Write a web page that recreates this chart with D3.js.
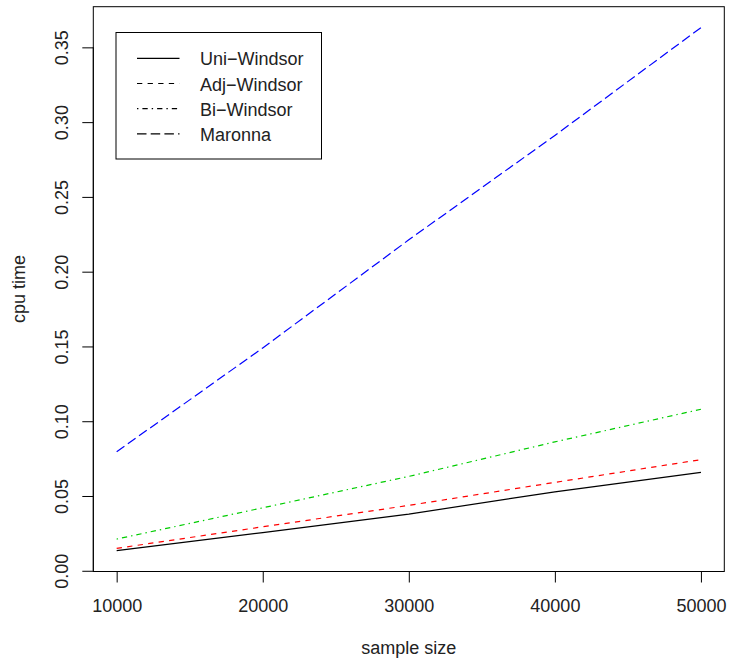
<!DOCTYPE html>
<html>
<head>
<meta charset="utf-8">
<script src="https://cdn.jsdelivr.net/npm/d3@7"></script>
<style>
    html, body { margin: 0; padding: 0; background: #fff; }
    svg { display: block; font-family: "Liberation Sans", Arial, Helvetica, sans-serif; }
</style>
</head>
<body>
<div id="chart"></div>
<script>
// values
var sampleSizes = [10000, 20000, 30000, 40000, 50000];
var uniWindsor = [0.0135, 0.0255, 0.0379, 0.0528, 0.0658];
var adjWindsor = [0.0150, 0.0294, 0.0437, 0.0591, 0.0743];
var biWindsor = [0.0212, 0.0421, 0.0631, 0.0862, 0.1080];
var maronna = [0.0796, 0.1490, 0.2213, 0.2911, 0.3632];
var seriesNames = ["Uni\u2212Windsor", "Adj\u2212Windsor", "Bi\u2212Windsor", "Maronna"];
var xTicks = [10000, 20000, 30000, 40000, 50000];
var yTicks = [0, 0.05, 0.10, 0.15, 0.20, 0.25, 0.30, 0.35];

(function(d3) {

    "use strict";

    var width = 729,
        height = 659;

    var box = { left: 93.3, right: 724.3, top: 6.7, bottom: 571.5 };

    // R-like line styles: solid, dashed, dotdash, longdash (scaled up a bit)
    var colors = ["#000000", "#FF0000", "#00CD00", "#0000FF"];
    var dashes = [null, "5.3,5.3", "1.4,4,5.3,4", "9.5,4.2"];

    var series = [uniWindsor, adjWindsor, biWindsor, maronna];

    /**
     * Extend a range by 4% on each side, like R does
     * @param  {Array} ext [min, max]
     * @return {Array}     extended domain
     */
    function rRange(ext) {
        var r = ext[1] - ext[0];
        return [ext[0] - 0.04 * r, ext[1] + 0.04 * r];
    }

    var allY = d3.merge(series);

    var x = d3.scaleLinear()
        .domain(rRange(d3.extent(sampleSizes)))
        .range([box.left, box.right]);

    var y = d3.scaleLinear()
        .domain(rRange(d3.extent(allY)))
        .range([box.bottom, box.top]);

    var svg = d3.select("#chart")
        .append("svg")
        .attr("width", width)
        .attr("height", height);

    // lines
    var line = d3.line()
        .x(function(d, i) { return x(sampleSizes[i]); })
        .y(function(d) { return y(d); });

    svg.selectAll(".series")
        .data(series)
        .enter()
        .append("path")
        .attr("class", "series")
        .attr("d", line)
        .attr("fill", "none")
        .attr("stroke", function(d, i) { return colors[i]; })
        .attr("stroke-width", 1.2)
        .attr("stroke-dasharray", function(d, i) { return dashes[i]; });

    // x axis
    var xAxis = svg.append("g")
        .attr("transform", "translate(0," + box.bottom + ")")
        .call(d3.axisBottom(x).tickValues(xTicks).tickSize(11).tickFormat(d3.format("d")));

    xAxis.select(".domain").remove();
    xAxis.append("line")
        .attr("x1", x(xTicks[0]))
        .attr("x2", x(xTicks[xTicks.length - 1]))
        .attr("stroke", "#000");
    xAxis.selectAll("text")
        .attr("dy", null)
        .attr("y", 40.5)
        .attr("font-size", 18)
        .attr("fill", "#222");

    // y axis
    var yAxis = svg.append("g")
        .attr("transform", "translate(" + box.left + ",0)")
        .call(d3.axisLeft(y).tickValues(yTicks).tickSize(11).tickFormat(d3.format(".2f")));

    yAxis.select(".domain").remove();
    yAxis.append("line")
        .attr("y1", y(yTicks[0]))
        .attr("y2", y(yTicks[yTicks.length - 1]))
        .attr("stroke", "#000");
    yAxis.selectAll("text")
        .attr("dy", null)
        .attr("x", 0)
        .attr("y", -25)
        .attr("transform", "rotate(-90)")
        .attr("text-anchor", "middle")
        .attr("font-size", 18)
        .attr("fill", "#222");

    svg.selectAll(".tick line").attr("stroke", "#000");

    // plot box
    svg.append("rect")
        .attr("x", box.left)
        .attr("y", box.top)
        .attr("width", box.right - box.left)
        .attr("height", box.bottom - box.top)
        .attr("fill", "none")
        .attr("stroke", "#000");

    // axis titles
    svg.append("text")
        .attr("x", (box.left + box.right) / 2)
        .attr("y", 654)
        .attr("text-anchor", "middle")
        .attr("font-size", 18)
        .attr("fill", "#222")
        .text("sample size");

    svg.append("text")
        .attr("transform", "translate(24.5," + ((box.top + box.bottom) / 2) + ") rotate(-90)")
        .attr("text-anchor", "middle")
        .attr("font-size", 18)
        .attr("fill", "#222")
        .text("cpu time");

    // legend
    var legend = svg.append("g");

    legend.append("rect")
        .attr("x", 116)
        .attr("y", 32.5)
        .attr("width", 205.5)
        .attr("height", 126.5)
        .attr("fill", "#fff")
        .attr("stroke", "#000");

    var item = legend.selectAll(".item")
        .data(seriesNames)
        .enter()
        .append("g")
        .attr("class", "item")
        .attr("transform", function(d, i) { return "translate(0," + (58.3 + i * 25.2) + ")"; });

    item.append("line")
        .attr("x1", 137)
        .attr("x2", 179.5)
        .attr("stroke", "#000")
        .attr("stroke-width", 1.2)
        .attr("stroke-dasharray", function(d, i) { return dashes[i]; });

    item.append("text")
        .attr("x", 200)
        .attr("y", 7)
        .attr("font-size", 18)
        .attr("fill", "#222")
        .text(function(d) { return d; });

})(d3);
</script>
</body>
</html>
